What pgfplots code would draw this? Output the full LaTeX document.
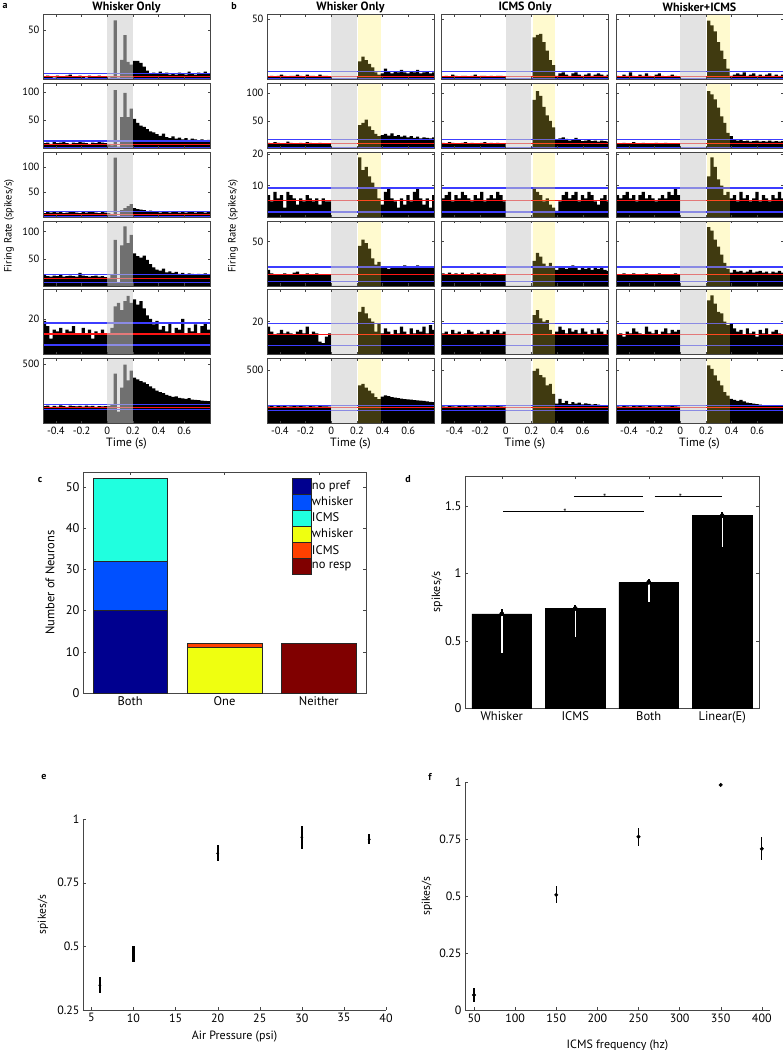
\documentclass[border=0pt]{standalone}
\usepackage{fontspec}
\setmainfont{PT Sans}
\usepackage{pgfplots}
\usepackage{pgfplotstable}
\pgfplotsset{compat=1.18}

\definecolor{shadegray}{RGB}{204,204,204}
\definecolor{shadeyel}{RGB}{255,234,64}
\definecolor{frame}{RGB}{70,70,70}
\definecolor{thrblue}{RGB}{60,60,255}
\definecolor{thrred}{RGB}{255,20,20}
\definecolor{jetA}{RGB}{0,0,143}
\definecolor{jetB}{RGB}{0,80,255}
\definecolor{jetC}{RGB}{32,255,223}
\definecolor{jetD}{RGB}{239,255,16}
\definecolor{jetE}{RGB}{255,64,0}
\definecolor{jetF}{RGB}{128,0,0}

% panel a: whisker only, 6 neurons, 25 ms bins
\pgfplotstableread{
t r1 r2 r3 r4 r5 r6
-0.500 3 9 8 20 19 145
-0.475 4 10 10 18 16 150
-0.450 3 8 9 17 9 140
-0.425 2 11 11 19 14 148
-0.400 4 9 9 18 13 142
-0.375 3 10 10 20 15 152
-0.350 3 13 8 17 12 145
-0.325 4 9 9 18 14 140
-0.300 5 8 10 19 13 150
-0.275 3 10 11 18 16 146
-0.250 3 9 9 17 12 143
-0.225 4 11 8 24 11 148
-0.200 3 10 10 19 15 141
-0.175 2 9 9 18 12 150
-0.150 4 8 11 17 14 144
-0.125 3 10 10 18 9 147
-0.100 3 9 9 19 13 140
-0.075 4 11 8 17 12 146
-0.050 3 10 10 18 14 143
-0.025 3 9 9 16 11 145
0.000 2 8 8 15 12 145
0.025 3 5 6 20 15 160
0.050 60 103 119 85 27 418
0.075 2 3 2 5 29 100
0.100 20 55 14 75 25 300
0.125 45 98 18 110 30 493
0.150 18 55 22 79 33 360
0.175 15 70 26 94 29 443
0.200 19 52 18 60 31 385
0.225 19 45 16 55 28 370
0.250 17 40 15 52 30 355
0.275 13 38 14 56 26 345
0.300 9 34 12 48 22 330
0.325 6 30 13 40 20 310
0.350 7 28 11 34 17 295
0.375 6 25 10 30 19 275
0.400 8 22 9 28 14 262
0.425 6 26 11 32 16 255
0.450 7 20 10 25 13 240
0.475 5 18 9 27 18 232
0.500 6 21 10 24 12 222
0.525 5 17 11 26 15 228
0.550 7 19 9 22 14 215
0.575 6 16 10 24 20 210
0.600 5 18 9 21 11 207
0.625 8 15 11 23 15 212
0.650 6 17 10 22 13 200
0.675 5 16 9 20 17 198
0.700 7 14 12 22 12 195
0.725 6 16 10 21 16 192
0.750 8 13 9 23 18 190
0.775 6 15 10 20 14 188
0.800 6 15 10 20 14 188
}\Ta

% panel b, whisker only
\pgfplotstableread{
t r1 r2 r3 r4 r5 r6
-0.500 2 10 7 18 17 160
-0.475 3 9 5 14 14 162
-0.450 2 11 8 13 12 158
-0.425 3 10 6 12 13 165
-0.400 4 8 7 13 15 160
-0.375 3 9 3 14 13 163
-0.350 2 12 8 12 14 158
-0.325 3 10 7 13 13 160
-0.300 3 9 6 15 12 162
-0.275 4 8 4 16 14 159
-0.250 3 10 6 13 15 161
-0.225 2 9 5 12 13 160
-0.200 4 11 7 14 17 158
-0.175 3 10 6 13 12 163
-0.150 3 9 5 12 14 160
-0.125 2 8 6 14 13 158
-0.100 4 10 4 13 8 161
-0.075 3 9 6 12 7 159
-0.050 3 8 5 13 11 160
-0.025 2 9 5 12 13 158
0.000 0 0 0 0 0 0
0.210 15 42 19 45 26 355
0.235 19 46 15 52 29 370
0.260 16 52 16 48 25 335
0.285 13 40 13 42 22 305
0.310 10 33 11 31 20 280
0.335 6 26 9 24 14 245
0.360 4 22 6 27 19 228
0.385 5 24 4 20 13 250
0.410 9 26 8 22 16 262
0.435 7 23 9 19 14 255
0.460 5 27 6 21 12 245
0.485 7 22 5 20 15 240
0.510 6 24 3 22 13 236
0.535 8 21 6 21 17 232
0.560 6 23 4 23 14 228
0.585 5 20 7 21 12 225
0.610 7 22 5 22 16 222
0.635 6 19 8 20 13 218
0.660 8 21 9 23 15 215
0.685 5 18 6 21 14 212
0.710 6 20 4 22 17 210
0.735 7 19 6 20 13 205
0.760 5 18 3 22 18 202
0.785 6 20 7 21 15 198
0.800 6 20 7 21 15 198
}\Tw

% panel b, ICMS only
\pgfplotstableread{
t r1 r2 r3 r4 r5 r6
-0.500 2 10 6 14 13 160
-0.475 3 9 7 13 14 158
-0.450 2 11 8 15 12 162
-0.425 4 10 5 12 15 160
-0.400 3 8 7 14 13 157
-0.375 2 9 6 13 14 161
-0.350 3 10 8 15 12 159
-0.325 3 11 7 12 13 162
-0.300 2 9 6 13 15 160
-0.275 3 10 5 14 14 158
-0.250 4 9 7 13 12 161
-0.225 2 8 6 15 13 159
-0.200 3 10 8 12 14 160
-0.175 3 11 5 14 13 162
-0.150 2 9 6 13 15 158
-0.125 3 10 7 12 12 160
-0.100 2 9 6 14 14 159
-0.075 3 10 8 13 15 161
-0.050 3 8 7 12 13 160
-0.025 2 9 5 13 14 158
0.000 0 0 0 0 0 0
0.210 35 88 9 28 24 490
0.235 37 104 8 37 27 510
0.260 38 95 7 33 22 450
0.285 31 75 5 25 20 430
0.310 24 60 6 22 21 355
0.335 16 50 4 26 15 370
0.360 12 38 3 20 12 275
0.385 3 15 2 18 14 185
0.410 5 18 5 20 17 230
0.435 6 20 7 22 15 190
0.460 4 17 8 19 13 210
0.485 3 14 6 21 16 180
0.510 5 16 7 23 14 200
0.535 6 19 8 20 15 185
0.560 4 15 5 18 13 195
0.585 3 13 7 22 16 178
0.610 4 14 6 19 14 188
0.635 5 15 8 21 12 182
0.660 3 13 7 18 15 176
0.685 4 14 5 20 13 180
0.710 5 12 4 19 16 175
0.735 4 14 6 21 14 172
0.760 3 13 7 18 12 170
0.785 4 12 5 17 15 168
0.800 4 12 5 17 15 168
}\Ti

% panel b, whisker+ICMS
\pgfplotstableread{
t r1 r2 r3 r4 r5 r6
-0.500 3 9 7 13 12 160
-0.475 2 8 6 12 13 158
-0.450 4 10 7 14 11 162
-0.425 3 9 8 13 14 160
-0.400 6 8 6 12 13 157
-0.375 3 11 7 14 16 161
-0.350 2 9 5 13 14 159
-0.325 4 8 7 12 13 162
-0.300 3 10 8 13 12 160
-0.275 5 9 6 14 17 158
-0.250 3 8 7 12 14 161
-0.225 2 9 6 13 13 159
-0.200 4 10 5 12 15 160
-0.175 5 8 6 14 12 162
-0.150 3 9 7 13 14 158
-0.125 2 10 6 12 16 160
-0.100 3 8 8 13 13 159
-0.075 4 9 7 12 15 161
-0.050 3 8 9 14 14 160
-0.025 2 9 7 13 15 158
0.000 0 0 0 0 0 0
0.210 49 104 13 66 33 540
0.235 45 98 19 62 36 509
0.260 40 89 16 52 31 447
0.285 31 74 12 44 26 400
0.310 24 58 10 35 25 354
0.335 17 46 7 26 20 292
0.360 9 28 8 19 18 260
0.385 3 22 6 15 19 230
0.410 4 16 7 18 16 220
0.435 5 14 5 16 14 210
0.460 4 15 8 17 15 220
0.485 6 13 6 15 12 205
0.510 3 14 7 16 16 195
0.535 4 12 5 18 13 190
0.560 5 13 6 15 14 185
0.585 3 14 8 16 11 180
0.610 4 12 5 17 15 175
0.635 3 13 7 15 13 172
0.660 4 12 6 16 16 170
0.685 5 14 5 14 12 168
0.710 3 12 7 16 14 167
0.735 4 13 6 15 15 165
0.760 3 12 8 17 13 165
0.785 4 13 6 15 12 163
0.800 4 13 6 15 12 163
}\Twi

\pgfplotsset{
  /pgf/number format/assume math mode=true,
  psth/.style={anchor=north west, scale only axis, width=167pt, height=65pt,
    xmin=-0.5, xmax=0.8, ymin=0, axis on top,
    xtick={-0.4,-0.2,0,0.2,0.4,0.6}, xticklabels={},
    axis line style={frame, line width=0.6pt},
    tick style={frame, line width=0.5pt}, major tick length=2.5pt,
    tick label style={font=\fontsize{10.5}{12}\selectfont}},
  botrow/.style={xticklabels={-0.4,-0.2,0,0.2,0.4,0.6}},
  noy/.style={yticklabels={}},
  thr/.style={line width=1.2pt, mark=none},
}

% #1 x, #2 y, #3 table, #4 column, #5 ymax, #6 options, #7 upper, #8 mean, #9 lower
\newcommand{\psthA}[9]{%
  \begin{axis}[psth, at={(#1pt,-#2pt)}, ymax=#5, #6]
    \addplot[const plot, fill=black, draw=none] table[x=t, y=#4] {#3} \closedcycle;
    \addplot[thr, draw=thrblue] coordinates {(-0.5,#7) (0.8,#7)};
    \addplot[thr, draw=thrred] coordinates {(-0.5,#8) (0.8,#8)};
    \addplot[thr, draw=thrblue] coordinates {(-0.5,#9) (0.8,#9)};
    \fill[shadegray, fill opacity=0.55] (axis cs:0,0) rectangle (axis cs:0.2,#5);
  \end{axis}}
\newcommand{\psthB}[9]{%
  \begin{axis}[psth, at={(#1pt,-#2pt)}, ymax=#5, #6]
    \addplot[const plot, fill=black, draw=none] table[x=t, y=#4] {#3} \closedcycle;
    \addplot[thr, draw=thrblue] coordinates {(-0.5,#7) (0.8,#7)};
    \addplot[thr, draw=thrred] coordinates {(-0.5,#8) (0.8,#8)};
    \addplot[thr, draw=thrblue] coordinates {(-0.5,#9) (0.8,#9)};
    \fill[shadegray, fill opacity=0.55] (axis cs:0,0) rectangle (axis cs:0.2,#5);
    \fill[shadeyel, fill opacity=0.25] (axis cs:0.21,0) rectangle (axis cs:0.385,#5);
  \end{axis}}

\begin{document}
\begin{tikzpicture}
\path[use as bounding box] (0,0) rectangle (783pt,-1050pt);

% ---- panel a
\psthA{43}{14.5}{\Ta}{r1}{66}{ytick={50}}{6}{3}{0.5}
\psthA{43}{83.3}{\Ta}{r2}{115}{ytick={50,100}}{13}{6.6}{1.8}
\psthA{43}{152.1}{\Ta}{r3}{130}{ytick={50,100}}{11.4}{6}{2}
\psthA{43}{220.9}{\Ta}{r4}{120}{ytick={50,100}}{20.9}{14.2}{6.8}
\psthA{43}{289.7}{\Ta}{r5}{36.4}{ytick={20}}{17.8}{11.6}{5.4}
\psthA{43}{358.5}{\Ta}{r6}{544}{ytick={500},botrow}{161}{136}{114}

% ---- panel b, three conditions
\psthB{267}{14.5}{\Tw}{r1}{54}{ytick={50}}{6.4}{2.2}{0.4}
\psthB{267}{83.3}{\Tw}{r2}{118}{ytick={50,100}}{16}{8}{1.8}
\psthB{267}{152.1}{\Tw}{r3}{20.7}{ytick={10,20}}{9.3}{5.3}{1.6}
\psthB{267}{220.9}{\Tw}{r4}{73}{ytick={50}}{21.3}{13.1}{4.5}
\psthB{267}{289.7}{\Tw}{r5}{39.4}{ytick={20}}{18.8}{12.1}{5.6}
\psthB{267}{358.5}{\Tw}{r6}{605}{ytick={500},botrow}{165}{146}{121}

\psthB{441.5}{14.5}{\Ti}{r1}{54}{ytick={50},noy}{6.4}{2.2}{0.4}
\psthB{441.5}{83.3}{\Ti}{r2}{118}{ytick={50,100},noy}{16}{8}{1.8}
\psthB{441.5}{152.1}{\Ti}{r3}{20.7}{ytick={10,20},noy}{9.3}{5.3}{1.6}
\psthB{441.5}{220.9}{\Ti}{r4}{73}{ytick={50},noy}{21.3}{13.1}{4.5}
\psthB{441.5}{289.7}{\Ti}{r5}{39.4}{ytick={20},noy}{18.8}{12.1}{5.6}
\psthB{441.5}{358.5}{\Ti}{r6}{605}{ytick={500},noy,botrow}{165}{146}{121}

\psthB{616}{14.5}{\Twi}{r1}{54}{ytick={50},noy}{6.4}{2.2}{0.4}
\psthB{616}{83.3}{\Twi}{r2}{118}{ytick={50,100},noy}{16}{8}{1.8}
\psthB{616}{152.1}{\Twi}{r3}{20.7}{ytick={10,20},noy}{9.3}{5.3}{1.6}
\psthB{616}{220.9}{\Twi}{r4}{73}{ytick={50},noy}{21.3}{13.1}{4.5}
\psthB{616}{289.7}{\Twi}{r5}{39.4}{ytick={20},noy}{18.8}{12.1}{5.6}
\psthB{616}{358.5}{\Twi}{r6}{605}{ytick={500},noy,botrow}{165}{146}{121}

\begin{scope}[font=\bfseries\fontsize{12}{14}\selectfont]
\node at (126.5pt,-7pt) {Whisker Only};
\node at (350.5pt,-7pt) {Whisker Only};
\node at (525pt,-7pt) {ICMS Only};
\node at (699.5pt,-7pt) {Whisker+ICMS};
\end{scope}
\begin{scope}[font=\bfseries\fontsize{10}{11}\selectfont]
\node at (5pt,-6pt) {a};
\node at (234pt,-6pt) {b};
\node at (40pt,-480pt) {c};
\node at (408pt,-479pt) {d};
\node at (44pt,-777pt) {e};
\node at (430pt,-777pt) {f};
\end{scope}
\begin{scope}[font=\fontsize{10.5}{12}\selectfont]
\node[rotate=90] at (9pt,-226pt) {Firing Rate (spikes/s)};
\node[rotate=90] at (233pt,-226pt) {Firing Rate (spikes/s)};
\end{scope}
\begin{scope}[font=\fontsize{12}{14}\selectfont]
\node at (126.5pt,-444pt) {Time (s)};
\node at (350.5pt,-444pt) {Time (s)};
\node at (525pt,-444pt) {Time (s)};
\node at (699.5pt,-444pt) {Time (s)};
\end{scope}

% ---- panel c
\begin{axis}[anchor=north west, at={(83pt,-472pt)}, scale only axis,
  width=283pt, height=221pt,
  ybar stacked, bar width=0.79,
  xmin=0.5, xmax=3.5, ymin=0, ymax=53.6,
  xtick={1,2,3}, xticklabels={Both,One,Neither},
  ytick={0,10,20,30,40,50},
  axis line style={frame, line width=0.6pt}, tick style={frame},
  major tick length=3pt,
  tick label style={font=\fontsize{12.5}{14}\selectfont},
  ylabel={Number of Neurons},
  ylabel style={at={(axis description cs:-0.117,0.5)}, anchor=center,
    font=\fontsize{12.5}{14}\selectfont},
  legend style={at={(0.7385,0.973)}, anchor=north west, draw=none, fill=white,
    inner sep=0pt, outer sep=0pt, row sep=0pt,
    font=\fontsize{12.5}{14}\selectfont, nodes={inner sep=0.5pt},
    cells={anchor=west}},
  legend image code/.code={\draw[#1, draw=black!85, line width=0.5pt]
    (0pt,-7.8pt) rectangle (19pt,7.8pt);},
]
\addplot[fill=jetA, draw=black!85] coordinates {(1,20) (2,0) (3,0)};
\addplot[fill=jetB, draw=black!85] coordinates {(1,12) (2,0) (3,0)};
\addplot[fill=jetC, draw=black!85] coordinates {(1,20) (2,0) (3,0)};
\addplot[fill=jetD, draw=black!85] coordinates {(1,0) (2,11) (3,0)};
\addplot[fill=jetE, draw=black!85] coordinates {(1,0) (2,1) (3,0)};
\addplot[fill=jetF, draw=black!85] coordinates {(1,0) (2,0) (3,12)};
\legend{no pref, whisker, ICMS, whisker, ICMS, no resp}
\end{axis}

% ---- panel d
\begin{axis}[anchor=north west, at={(465pt,-476pt)}, scale only axis,
  width=294pt, height=232pt,
  xmin=0.5, xmax=4.5, ymin=0, ymax=1.725,
  xtick={1,2,3,4}, xticklabels={Whisker,ICMS,Both,Linear(E)},
  ytick={0,0.5,1,1.5},
  axis line style={frame, line width=0.6pt}, tick style={frame},
  major tick length=3pt,
  tick label style={font=\fontsize{12.5}{14}\selectfont},
  ylabel={spikes/s},
  ylabel style={at={(axis description cs:-0.095,0.5)}, anchor=center,
    font=\fontsize{12}{14}\selectfont},
]
\addplot[ybar, bar width=0.81, fill=black, draw=black] coordinates {(1,0.70) (2,0.74) (3,0.935) (4,1.43)};
\addplot[only marks, mark=none, error bars/.cd, y dir=minus, y explicit, error mark=none,
  error bar style={white, line width=1.5pt}]
  coordinates {(1,0.70) -= (0,0.29) (2,0.74) -= (0,0.21) (3,0.935) -= (0,0.145) (4,1.43) -= (0,0.23)};
\addplot[only marks, mark=none, error bars/.cd, y dir=plus, y explicit, error mark=none,
  error bar style={black, line width=1.8pt}]
  coordinates {(1,0.70) += (0,0.035) (2,0.74) += (0,0.025) (3,0.935) += (0,0.025) (4,1.43) += (0,0.03)};
\draw[black, line width=0.5pt] (axis cs:1.98,1.576) -- (axis cs:2.92,1.576);
\draw[black, line width=0.5pt] (axis cs:3.08,1.576) -- (axis cs:4.0,1.576);
\draw[black, line width=0.5pt] (axis cs:1.02,1.465) -- (axis cs:2.93,1.465);
\node[font=\fontsize{9}{9}\selectfont, inner sep=0pt, yshift=-1.5pt] at (axis cs:2.40,1.576) {*};
\node[font=\fontsize{9}{9}\selectfont, inner sep=0pt, yshift=-1.5pt] at (axis cs:3.43,1.576) {*};
\node[font=\fontsize{9}{9}\selectfont, inner sep=0pt, yshift=-1.5pt] at (axis cs:1.86,1.465) {*};
\end{axis}

% ---- panel e
\begin{axis}[anchor=north west, at={(83pt,-819pt)}, scale only axis,
  width=303pt, height=191pt,
  xmin=4, xmax=40, ymin=0.25, ymax=1,
  axis x line*=bottom, axis y line*=left, tick align=inside,
  xtick={5,10,15,20,25,30,35,40}, ytick={0.25,0.5,0.75,1},
  axis line style={frame, line width=0.6pt}, tick style={frame},
  major tick length=3pt,
  tick label style={font=\fontsize{12}{14}\selectfont},
  xlabel={Air Pressure (psi)}, ylabel={spikes/s},
  xlabel style={at={(axis description cs:0.5,-0.141)}, anchor=center,
    font=\fontsize{12}{14}\selectfont},
  ylabel style={at={(axis description cs:-0.132,0.5)}, anchor=center,
    font=\fontsize{11.5}{13}\selectfont},
]
\addplot[only marks, mark=*, mark size=1.2pt, black,
  error bars/.cd, y dir=both, y explicit, error mark=none,
  error bar style={black, line width=2.2pt}]
  coordinates {(6,0.347) +- (0,0.032) (10,0.47) +- (0,0.033) (20,0.865) +- (0,0.031)
               (30,0.928) +- (0,0.045) (38,0.92) +- (0,0.02)};
\end{axis}

% ---- panel f
\begin{axis}[anchor=north west, at={(465pt,-782pt)}, scale only axis,
  width=305pt, height=228pt,
  xmin=39, xmax=410, ymin=0, ymax=1,
  axis x line*=bottom, axis y line*=left, tick align=inside,
  xtick={50,100,150,200,250,300,350,400}, ytick={0,0.25,0.5,0.75,1},
  axis line style={frame, line width=0.6pt}, tick style={frame},
  major tick length=3pt,
  tick label style={font=\fontsize{12}{14}\selectfont},
  xlabel={ICMS frequency (hz)}, ylabel={spikes/s},
  xlabel style={at={(axis description cs:0.5,-0.154)}, anchor=center,
    font=\fontsize{12}{14}\selectfont},
  ylabel style={at={(axis description cs:-0.125,0.5)}, anchor=center,
    font=\fontsize{11.5}{13}\selectfont},
]
\addplot[only marks, mark=*, mark size=1.8pt, black,
  error bars/.cd, y dir=both, y explicit, error mark=none,
  error bar style={black, line width=1.1pt}]
  coordinates {(50,0.066) +- (0,0.03) (150,0.505) +- (0,0.037) (250,0.76) +- (0,0.04)
               (350,0.987) +- (0,0) (400,0.707) +- (0,0.05)};
\end{axis}
\end{tikzpicture}
\end{document}
